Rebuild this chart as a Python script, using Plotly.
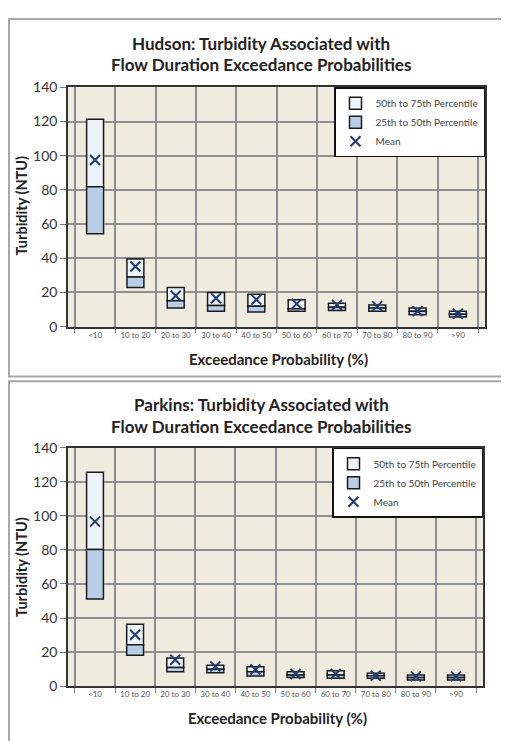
import plotly.graph_objects as go

# page body margin shifts the figure by 8 px; size the figure to fill the window exactly
OFFSET = 8
W, H = 509 - OFFSET, 741 - OFFSET

categories = ["<10", "10 to 20", "20 to 30", "30 to 40", "40 to 50",
              "50 to 60", "60 to 70", "70 to 80", "80 to 90", ">90"]

hudson_p25 = [54.3, 22.9, 10.9, 9.0, 8.6, 9.0, 9.5, 9.0, 7.0, 5.7]
hudson_p50 = [81.9, 29.1, 15.2, 12.4, 12.0, 10.5, 11.4, 10.9, 9.0, 7.3]
hudson_p75 = [121.3, 39.6, 22.9, 20.0, 19.0, 15.8, 13.7, 12.7, 10.9, 9.0]
hudson_mean = [97.5, 35.2, 18.1, 16.6, 15.8, 13.3, 12.7, 12.0, 9.1, 7.5]

parkins_p25 = [51.2, 18.2, 8.4, 7.8, 5.9, 5.0, 4.6, 4.6, 3.6, 3.6]
parkins_p50 = [80.3, 24.3, 10.9, 9.9, 8.4, 6.5, 6.5, 6.1, 5.0, 5.0]
parkins_p75 = [125.6, 36.3, 16.5, 12.2, 11.3, 8.4, 9.0, 7.5, 6.5, 6.5]
parkins_mean = [96.6, 30.2, 15.5, 11.6, 9.8, 7.1, 7.1, 6.1, 5.7, 5.7]

titles = ["Hudson: Turbidity Associated with", "Parkins: Turbidity Associated with"]
title_line2 = "Flow Duration Exceedance Probabilities"
x_title = "Exceedance Probability (%)"
y_title = "Turbidity (NTU)"
legend_names = ["50th to 75th Percentile", "25th to 50th Percentile", "Mean"]

FONT = "Lato"
LOW_COLOR = "#b9cde6"
HIGH_COLOR = "#eef2f9"
EDGE = "#1a1a1a"
MEAN_COLOR = "#1f3b70"
PLOT_BG = "#efebdf"
GRID = "#8e8e8e"


def px_x(p):
    return (p - OFFSET) / W


def px_y(p):
    return 1 - (p - OFFSET) / H


fig = go.Figure()

panels = [
    dict(p25=hudson_p25, p50=hudson_p50, p75=hudson_p75, mean=hudson_mean,
         top=80, bottom=325, left=68, right=485, off=0, legend="legend"),
    dict(p25=parkins_p25, p50=parkins_p50, p75=parkins_p75, mean=parkins_mean,
         top=449, bottom=693, left=68, right=483, off=370, legend="legend2"),
]

for i, pn in enumerate(panels):
    xa = "x" if i == 0 else "x2"
    ya = "y" if i == 0 else "y2"
    low = [b - a for a, b in zip(pn["p25"], pn["p50"])]
    high = [b - a for a, b in zip(pn["p50"], pn["p75"])]
    fig.add_trace(go.Bar(
        x=categories, y=high, base=pn["p50"], name=legend_names[0],
        marker=dict(color=HIGH_COLOR, line=dict(color=EDGE, width=1.5)),
        width=0.42, xaxis=xa, yaxis=ya, legend=pn["legend"], legendrank=1,
    ))
    fig.add_trace(go.Bar(
        x=categories, y=low, base=pn["p25"], name=legend_names[1],
        marker=dict(color=LOW_COLOR, line=dict(color=EDGE, width=1.5)),
        width=0.42, xaxis=xa, yaxis=ya, legend=pn["legend"], legendrank=2,
    ))
    fig.add_trace(go.Scatter(
        x=categories, y=pn["mean"], name=legend_names[2], mode="markers",
        marker=dict(symbol="x-thin", size=10, color=MEAN_COLOR,
                    line=dict(color=MEAN_COLOR, width=2)),
        xaxis=xa, yaxis=ya, legend=pn["legend"], legendrank=3,
    ))

axis_common_x = dict(
    type="category", tickson="boundaries", ticks="outside", ticklen=5,
    tickcolor="#777", showgrid=True, gridcolor=GRID, gridwidth=1.5,
    showline=True, linecolor="#333", linewidth=1.5, mirror=True,
    tickfont=dict(family=FONT, size=8, color="#555"),
    fixedrange=True,
)
axis_common_y = dict(
    range=[0, 140], dtick=20, ticks="outside", ticklen=6, tickcolor="#777",
    showgrid=True, gridcolor=GRID, gridwidth=1.5, zeroline=False,
    showline=True, linecolor="#333", linewidth=1.5, mirror=True,
    tickfont=dict(family=FONT, size=14, color="#333"),
    fixedrange=True,
)

p0, p1 = panels
layout = dict(
    width=W, height=H,
    margin=dict(l=0, r=0, t=0, b=0),
    paper_bgcolor="white",
    plot_bgcolor=PLOT_BG,
    barmode="overlay",
    showlegend=True,
    xaxis=dict(axis_common_x, domain=[px_x(p0["left"]), px_x(p0["right"])], anchor="y"),
    yaxis=dict(axis_common_y, domain=[px_y(p0["bottom"]), px_y(p0["top"])], anchor="x"),
    xaxis2=dict(axis_common_x, domain=[px_x(p1["left"]), px_x(p1["right"])], anchor="y2"),
    yaxis2=dict(axis_common_y, domain=[px_y(p1["bottom"]), px_y(p1["top"])], anchor="x2"),
)

legend_common = dict(
    bgcolor="white", bordercolor="#111", borderwidth=1.5,
    font=dict(family=FONT, size=10, color="#444"),
    xanchor="right", yanchor="top", tracegroupgap=0,
    itemwidth=30, traceorder="normal",
)
layout["legend"] = dict(legend_common, x=px_x(p0["right"]), y=px_y(p0["top"]))
layout["legend2"] = dict(legend_common, x=px_x(p1["right"]), y=px_y(p1["top"]))

fig.update_layout(**layout)

annotations = []
shapes = []
for i, pn in enumerate(panels):
    off = pn["off"]
    cx = (pn["left"] + pn["right"]) / 2
    annotations.append(dict(
        text="<b>" + titles[i] + "</b>", x=px_x(261), y=px_y(35 + off),
        xref="paper", yref="paper", showarrow=False, xanchor="center", yanchor="middle",
        font=dict(family=FONT, size=17, color="#222"),
    ))
    annotations.append(dict(
        text="<b>" + title_line2 + "</b>", x=px_x(261), y=px_y(57 + off),
        xref="paper", yref="paper", showarrow=False, xanchor="center", yanchor="middle",
        font=dict(family=FONT, size=17, color="#222"),
    ))
    annotations.append(dict(
        text="<b>" + x_title + "</b>", x=px_x(cx + 2), y=px_y(pn["bottom"] + 33),
        xref="paper", yref="paper", showarrow=False, xanchor="center", yanchor="middle",
        font=dict(family=FONT, size=15, color="#222"),
    ))
    annotations.append(dict(
        text="<b>" + y_title + "</b>", x=px_x(22), y=px_y(201 + off), textangle=-90,
        xref="paper", yref="paper", showarrow=False, xanchor="center", yanchor="middle",
        font=dict(family=FONT, size=14.5, color="#222"),
    ))

# panel frames, open on the right (they run past the picture edge)
FRAME = dict(color="#a8a8a8", width=2)
fx0 = px_x(9)
t1, b1 = px_y(10), px_y(376)
t2 = px_y(381)
shapes.append(dict(type="path", xref="paper", yref="paper", layer="below",
                   path=f"M 1.05,{t1} L {fx0},{t1} L {fx0},{b1} L 1.05,{b1}",
                   line=FRAME))
shapes.append(dict(type="path", xref="paper", yref="paper", layer="below",
                   path=f"M 1.05,{t2} L {fx0},{t2} L {fx0},-0.05",
                   line=FRAME))

fig.update_layout(annotations=annotations, shapes=shapes)

fig.write_html("out.html")
